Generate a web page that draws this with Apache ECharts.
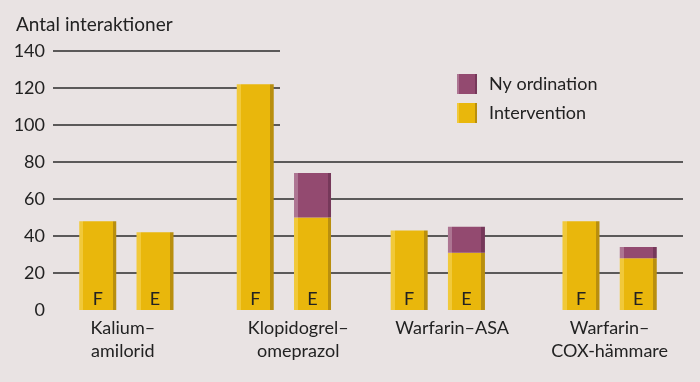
<!DOCTYPE html>
<html>
<head>
<meta charset="utf-8">
<script src="https://cdn.jsdelivr.net/npm/echarts@6/dist/echarts.min.js"></script>
<style>
html,body{margin:0;padding:0;background:#e9e3e3;}
#chart{width:700px;height:382px;}
</style>
</head>
<body>
<div id="chart"></div>
<script>
// ---- data ----
const categories = ['Kalium–\namilorid', 'Klopidogrel–\nomeprazol', 'Warfarin–ASA', 'Warfarin–\nCOX-hämmare'];
const barLabels = ['F', 'E', 'F', 'E', 'F', 'E', 'F', 'E'];
const intervention = [48, 42, 122, 50, 43, 31, 48, 28];
const nyOrdination = [null, null, null, 24, null, 14, null, 6];
const yTicksLower = [0, 20, 40, 60, 80];
const yTicksUpper = [100, 120, 140];

// ---- layout (slot positions on a fine category axis) ----
const SLOTS = 176;
const barSlots = [12, 28, 56, 72, 99, 115, 147, 163];
const labelSlots = [19, 68, 111, 155];

const slotLabels = new Array(SLOTS).fill('');
labelSlots.forEach((s, i) => { slotLabels[s] = categories[i]; });
const intData = new Array(SLOTS).fill('-');
const nyData = new Array(SLOTS).fill('-');
const slotBarIndex = {};
barSlots.forEach((s, i) => {
  intData[s] = intervention[i];
  nyData[s] = nyOrdination[i] == null ? '-' : nyOrdination[i];
  slotBarIndex[s] = i;
});

function stripe(light, main, dark) {
  return new echarts.graphic.LinearGradient(0, 0, 1, 0, [
    {offset: 0, color: light}, {offset: 0.11, color: light},
    {offset: 0.11, color: main}, {offset: 0.905, color: main},
    {offset: 0.905, color: dark}, {offset: 1, color: dark}
  ]);
}
const yellow = stripe('#f1c93a', '#e9b70c', '#b98f0e');
const purple = stripe('#ad7592', '#934a70', '#76385a');

const FONT = 'Lato';
const TXT = '#222222';
const GRID_LINE = {show: true, showMinLine: false, lineStyle: {color: '#2b2b2b', width: 1.5}};

const chart = echarts.init(document.getElementById('chart'));
chart.setOption({
  backgroundColor: '#e9e3e3',
  animation: false,
  textStyle: {fontFamily: FONT},
  title: {
    text: 'Antal interaktioner', left: 11, top: 10,
    textStyle: {fontFamily: FONT, fontSize: 19, fontWeight: 'normal', color: TXT}
  },
  legend: {
    orient: 'vertical', left: 457, top: 74, padding: 0, itemWidth: 20, itemHeight: 20, itemGap: 9,
    data: ['Ny ordination', 'Intervention'],
    textStyle: {fontFamily: FONT, fontSize: 18, color: TXT, padding: [0, 0, 0, 7]},
    icon: 'rect'
  },
  grid: [
    {left: 53, right: 17, top: 162, bottom: 72},
    {left: 53, width: 227, top: 51, height: 111}
  ],
  xAxis: [
    {
      gridIndex: 0, type: 'category', data: slotLabels, boundaryGap: true,
      axisLine: {show: false}, axisTick: {show: false}, splitLine: {show: false},
      axisLabel: {interval: 0, fontFamily: FONT, fontSize: 18, color: TXT, lineHeight: 23, margin: 7}
    },
    {gridIndex: 1, type: 'value', show: false, min: 0, max: 1}
  ],
  yAxis: [
    {
      gridIndex: 0, type: 'value', min: yTicksLower[0], max: yTicksLower[yTicksLower.length - 1], interval: 20,
      axisLine: {show: false}, axisTick: {show: false}, splitLine: GRID_LINE,
      axisLabel: {fontFamily: FONT, fontSize: 18, color: TXT, margin: 8}
    },
    {
      gridIndex: 1, type: 'value', min: 80, max: yTicksUpper[yTicksUpper.length - 1], interval: 20,
      axisLine: {show: false}, axisTick: {show: false}, splitLine: GRID_LINE,
      axisLabel: {fontFamily: FONT, fontSize: 18, color: TXT, margin: 8, showMinLabel: false}
    }
  ],
  series: [
    {
      name: 'Intervention', type: 'bar', stack: 'a', xAxisIndex: 0, yAxisIndex: 0,
      barWidth: 37, clip: false, data: intData,
      itemStyle: {color: yellow},
      label: {
        show: true, position: 'insideBottom', distance: 2,
        fontFamily: FONT, fontSize: 18, color: TXT,
        formatter: p => barLabels[slotBarIndex[p.dataIndex]] || ''
      }
    },
    {
      name: 'Ny ordination', type: 'bar', stack: 'a', xAxisIndex: 0, yAxisIndex: 0,
      barWidth: 37, clip: false, data: nyData,
      itemStyle: {color: purple}
    }
  ]
});
</script>
</body>
</html>
